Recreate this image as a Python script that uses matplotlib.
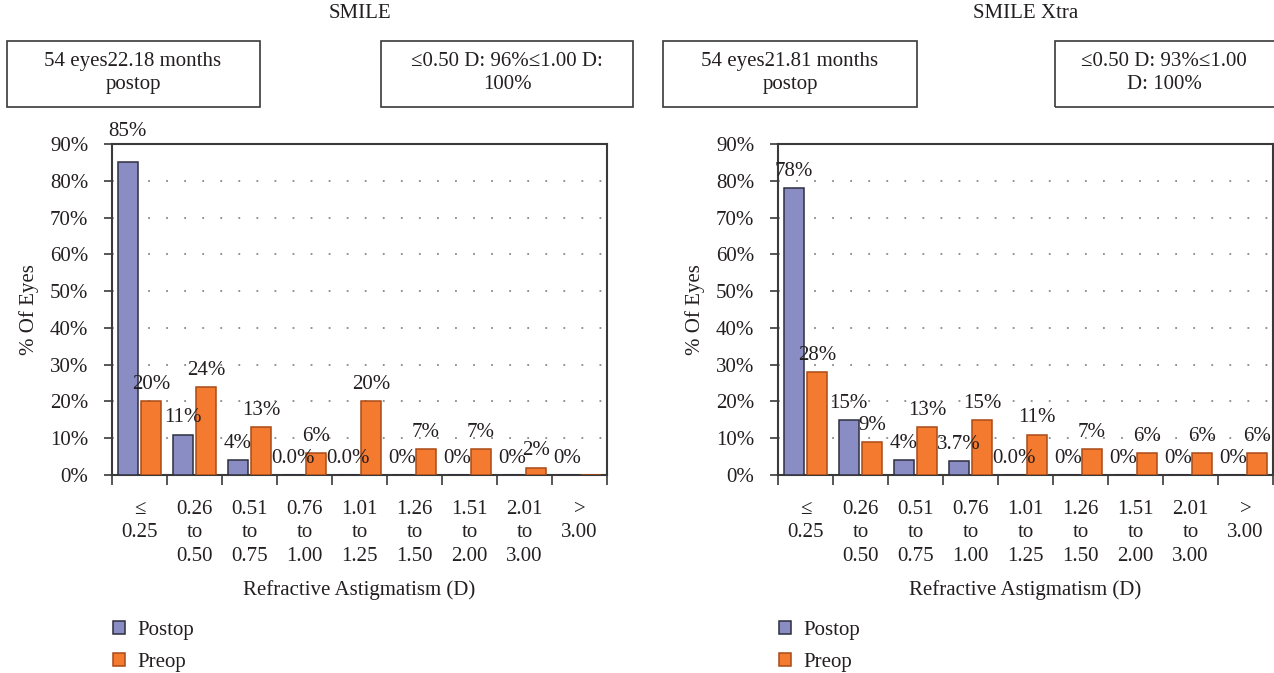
import numpy as np
import matplotlib
matplotlib.use("Agg")
import matplotlib.pyplot as plt
from matplotlib.patches import Rectangle

plt.rcParams['font.family'] = ['Liberation Serif', 'DejaVu Serif']
plt.rcParams['font.size'] = 15
plt.rcParams['text.color'] = '#231f20'
plt.rcParams['axes.labelcolor'] = '#231f20'
plt.rcParams['xtick.labelcolor'] = '#231f20'
plt.rcParams['ytick.labelcolor'] = '#231f20'

categories = ["≤\n0.25", "0.26\nto\n0.50", "0.51\nto\n0.75", "0.76\nto\n1.00",
              "1.01\nto\n1.25", "1.26\nto\n1.50", "1.51\nto\n2.00", "2.01\nto\n3.00",
              ">\n3.00"]

# SMILE
smile_postop = [85, 11, 4, 0, 0, 0, 0, 0, 0]
smile_postop_labels = ["85%", "11%", "4%", "0.0%", "0.0%", "0%", "0%", "0%", "0%"]
smile_preop = [20, 24, 13, 6, 20, 7, 7, 2, 0]
smile_preop_labels = ["20%", "24%", "13%", "6%", "20%", "7%", "7%", "2%", ""]

# SMILE Xtra
xtra_postop = [78, 15, 4, 3.7, 0, 0, 0, 0, 0]
xtra_postop_labels = ["78%", "15%", "4%", "3.7%", "0.0%", "0%", "0%", "0%", "0%"]
xtra_preop = [28, 9, 13, 15, 11, 7, 6, 6, 6]
xtra_preop_labels = ["28%", "9%", "13%", "15%", "11%", "7%", "6%", "6%", "6%"]

titles = ["SMILE", "SMILE Xtra"]
box_texts = [("54 eyes22.18 months\npostop", "≤0.50 D: 96%≤1.00 D:\n100%"),
             ("54 eyes21.81 months\npostop", "≤0.50 D: 93%≤1.00\nD: 100%")]

POST = '#8a8dc4'
POST_EDGE = '#2e2e3e'
PRE = '#f47a2f'
PRE_EDGE = '#a94a16'
FRAME = '#3a3a3a'

W, H = 1274, 673
fig = plt.figure(figsize=(W / 100, H / 100), dpi=100)


def fx(px):
    return px / W


def fy(py):
    return 1 - py / H


def panel(left_px, post, post_lab, pre, pre_lab, title, boxes, box_x):
    ax = fig.add_axes([fx(left_px), fy(475), fx(495), 331 / H])
    x = np.arange(len(categories))
    bw = 0.36
    b1 = ax.bar(x - 0.215, post, bw, color=POST, edgecolor=POST_EDGE, linewidth=1.1,
                label="Postop", zorder=3)
    b2 = ax.bar(x + 0.21, pre, bw, color=PRE, edgecolor=PRE_EDGE, linewidth=1.1,
                label="Preop", zorder=3)
    for bars, labs in ((b1, post_lab), (b2, pre_lab)):
        for b, t in zip(bars, labs):
            if t:
                # keep the label of a bar near the top clear of the frame
                off = 22 if b.get_height() > 80 else 12
                ax.annotate(t, (b.get_x() + b.get_width() / 2, b.get_height()),
                            xytext=(0, off), textcoords='offset points',
                            ha='center', va='center', zorder=4, annotation_clip=False)
    ax.set_xlim(-0.5, len(categories) - 0.5)
    ax.set_ylim(0, 90)
    ax.set_yticks(range(0, 91, 10))
    ax.set_yticklabels([f"{v}%" for v in range(0, 91, 10)])
    ax.set_xticks(np.arange(len(categories) + 1) - 0.5)
    ax.set_xticklabels([])
    ax.set_xticks(x, minor=True)
    ax.set_xticklabels(categories, minor=True, linespacing=1.32)
    ax.tick_params(axis='x', which='major', length=7, width=1.2, color=FRAME, direction='out')
    ax.tick_params(axis='x', which='minor', length=0, pad=18)
    ax.tick_params(axis='y', length=6, width=1.2, color=FRAME, direction='out', pad=11)
    for s in ax.spines.values():
        s.set_color(FRAME)
        s.set_linewidth(1.5)
    for v in range(10, 90, 10):
        ax.axhline(v, color='#888888', linestyle=(0, (1, 9)), linewidth=1.3, zorder=1)
    ax.set_ylabel("% Of Eyes", labelpad=8)
    ax.set_xlabel("Refractive Astigmatism (D)", labelpad=10)
    fig.text(fx(left_px + 247.5), fy(13), title, ha='center', va='center')
    ax.legend(loc='upper left', bbox_to_anchor=(fx(left_px - 18), fy(602)),
              bbox_transform=fig.transFigure, frameon=False, handlelength=0.6,
              handleheight=0.6, handletextpad=0.6, labelspacing=0.62)
    for (bx, bw_px, tx), txt in zip(box_x, boxes):
        fig.patches.append(Rectangle((fx(bx), fy(107)), fx(bw_px), 66 / H,
                                     transform=fig.transFigure, fill=False,
                                     edgecolor=FRAME, linewidth=1.2))
        fig.text(fx(tx), fy(73), txt, ha='center', va='center', linespacing=1.35)
    return ax


panel(112, smile_postop, smile_postop_labels, smile_preop, smile_preop_labels,
      titles[0], box_texts[0], [(7, 253, 133), (381, 252, 507)])
panel(778, xtra_postop, xtra_postop_labels, xtra_preop, xtra_preop_labels,
      titles[1], box_texts[1], [(663, 254, 790), (1055, 260, 1164)])

fig.savefig("out.png", dpi=100)
